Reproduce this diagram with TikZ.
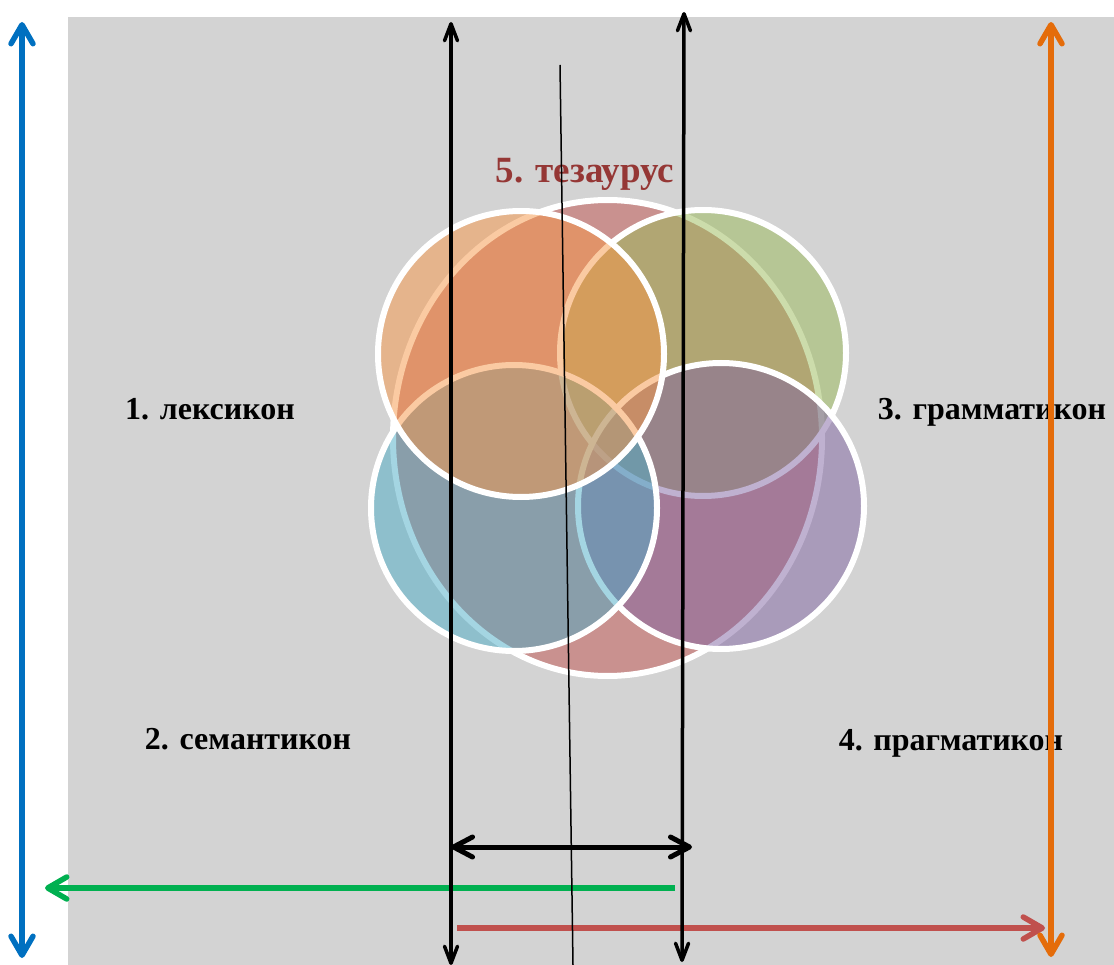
\documentclass[tikz,border=0pt]{standalone}
\usepackage{fontspec}
\setmainfont{Liberation Serif}
\usetikzlibrary{arrows.meta,shapes.geometric}
\definecolor{bggray}{HTML}{D3D3D3}
\definecolor{accred}{HTML}{C0504D}
\definecolor{accgreen}{HTML}{9BBB59}
\definecolor{accpurple}{HTML}{8064A2}
\definecolor{accblue}{HTML}{4BACC6}
\definecolor{accorange}{HTML}{F79646}
\definecolor{titlered}{HTML}{953735}
\definecolor{arrblue}{HTML}{0070C0}
\definecolor{arrgreen}{HTML}{00B050}
\definecolor{arrred}{HTML}{C0504D}
\definecolor{arrorange}{HTML}{E46C0A}
\tikzset{
  venn/.style={draw=white, line width=6pt, fill opacity=0.5, draw opacity=1, inner sep=0pt, outer sep=0pt},
  vcircle/.style={venn, circle, minimum size=286pt},
  lbl/.style={font=\fontsize{32}{38}\selectfont\bfseries, inner sep=0pt, anchor=base},
  ttl/.style={font=\fontsize{37}{42}\selectfont\bfseries, text=titlered, inner sep=0pt, anchor=base},
  bigarr/.style={line width=5.5pt, {Straight Barb[length=19pt,width=22pt,round]}-{Straight Barb[length=19pt,width=22pt,round]}},
  onearr/.style={line width=5.5pt, -{Straight Barb[length=19pt,width=22pt,round]}},
  blkv/.style={line width=3.5pt, {Straight Barb[length=17pt,width=13pt,round]}-{Straight Barb[length=17pt,width=13pt,round]}},
  blkh/.style={line width=5pt, {Straight Barb[length=19pt,width=20pt,round]}-{Straight Barb[length=19pt,width=20pt,round]}},
}
\begin{document}
\begin{tikzpicture}[x=1pt,y=-1pt]
\useasboundingbox (0,0) rectangle (1114,965);
\fill[bggray] (68,17) rectangle (1114,965);

% Venn circles (draw order matters)
\node[venn, ellipse, minimum width=429pt, minimum height=476pt, fill=accred] (tez) at (607.5,438) {};
\node[vcircle, fill=accgreen] (gram) at (703,353) {};
\node[vcircle, fill=accpurple] (prag) at (721,506) {};
\node[vcircle, fill=accblue] (sem) at (514,508) {};
\node[vcircle, fill=accorange] (lex) at (521,354) {};

% labels
\node[lbl] (l1) at (210,420) {1. лексикон};
\node[lbl] (l2) at (248,749) {2. семантикон};
\node[lbl] (l3) at (992,420) {3. грамматикон};
\node[lbl] (l4) at (951,750) {4. прагматикон};
\node[ttl] (l5) at (585,183) {5. тезаурус};

% arrow end points
\coordinate (bT) at (22,22);
\coordinate (bB) at (22,958);
\coordinate (oT) at (1051,22);
\coordinate (oB) at (1051,957);
\coordinate (gS) at (675,888);
\coordinate (gE) at (45,888);
\coordinate (rS) at (457,928);
\coordinate (rE) at (1045,928);
\coordinate (k1T) at (451,22);
\coordinate (k1B) at (451,965);
\coordinate (k2T) at (684,12);
\coordinate (k2B) at (682,962);
\coordinate (hL) at (451,847);
\coordinate (hR) at (692,847);
\coordinate (tT) at (560,65);
\coordinate (tB) at (573,965);

% coloured arrows
\draw[bigarr, arrblue] (bT) -- (bB);
\draw[onearr, arrgreen] (gS) -- (gE);
\draw[onearr, arrred] (rS) -- (rE);
\draw[bigarr, arrorange] (oT) -- (oB);

% black lines
\draw[line width=1.5pt] (tT) -- (tB);
\draw[blkv] (k1T) -- (k1B);
\draw[blkv] (k2T) -- (k2B);
\draw[blkh] (hL) -- (hR);
\end{tikzpicture}
\end{document}
